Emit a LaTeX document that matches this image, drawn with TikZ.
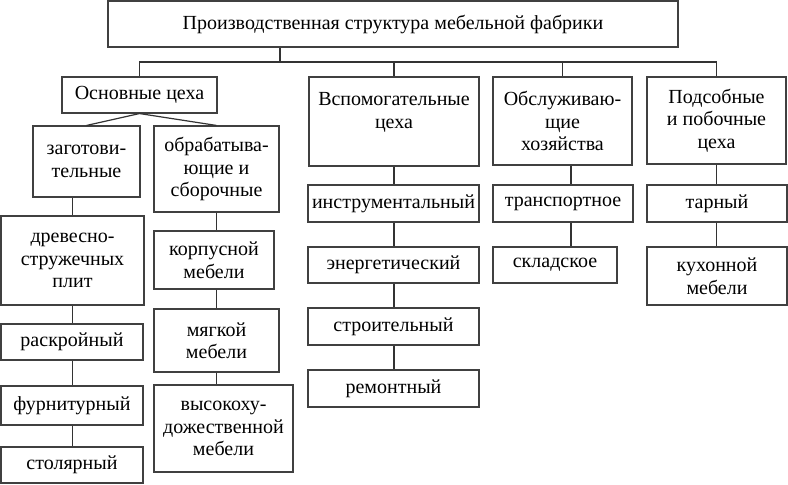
\documentclass[tikz,border=0pt]{standalone}
\usepackage{fontspec}
\setmainfont{Liberation Serif}
\begin{document}
\begin{tikzpicture}[x=1pt,y=1pt,
  box/.style={draw=black!75, line width=1.1pt, align=center, inner sep=0pt,
    font=\fontsize{20}{22.5}\selectfont},
  conn/.style={draw=black!80, line width=1.2pt}]
\useasboundingbox (0,0) rectangle (788,-485);
% level 0
\node[box, minimum width=570, minimum height=46] (top) at (393,-24) {Производственная структура мебельной фабрики};
% level 1
\node[box, minimum width=155, minimum height=36] (osn) at (139.5,-95) {Основные цеха};
\node[box, minimum width=170, minimum height=89] (vsp) at (394,-121.5) {Вспомогательные\\цеха\\ };
\node[box, minimum width=139, minimum height=88] (obs) at (562.5,-121) {Обслуживаю-\\щие\\хозяйства};
\node[box, minimum width=139, minimum height=87] (pod) at (716.5,-120.5) {Подсобные\\и побочные\\цеха};
% level 2 (main)
\node[box, minimum width=107, minimum height=71] (zag) at (86.5,-161.5) {заготови-\\тельные};
\node[box, minimum width=125, minimum height=86] (obr) at (216.5,-169) {обрабатыва-\\ющие и\\сборочные};
% left column
\node[box, minimum width=143, minimum height=89] (drev) at (72.5,-260.5) {древесно-\\стружечных\\плит};
\node[box, minimum width=142, minimum height=36] (rask) at (72,-342) {раскройный};
\node[box, minimum width=142, minimum height=39] (furn) at (72,-405.5) {фурнитурный};
\node[box, minimum width=142, minimum height=36] (stol) at (72,-465) {столярный};
% second column
\node[box, minimum width=120, minimum height=58] (korp) at (214,-260) {корпусной\\мебели};
\node[box, minimum width=125, minimum height=63] (myag) at (216.5,-340.5) {мягкой\\мебели};
\node[box, minimum width=139, minimum height=87] (vys) at (223.5,-428.5) {высокоху-\\дожественной\\мебели};
% auxiliary column
\node[box, minimum width=171, minimum height=37] (instr) at (393.5,-203.5) {инструментальный};
\node[box, minimum width=171, minimum height=36] (energ) at (393.5,-265) {энергетический};
\node[box, minimum width=171, minimum height=37] (stroi) at (393.5,-326.5) {строительный};
\node[box, minimum width=171, minimum height=37] (rem) at (393.5,-388.5) {ремонтный};
% service column
\node[box, minimum width=140, minimum height=37] (trans) at (563,-203.5) {транспортное};
\node[box, minimum width=124, minimum height=36] (sklad) at (555,-265) {складское};
% side column
\node[box, minimum width=140, minimum height=37] (tar) at (717,-203.5) {тарный};
\node[box, minimum width=140, minimum height=58] (kuh) at (717,-276) {кухонной\\мебели};
% connectors from top
\coordinate (bus) at (280,-62);
\draw[conn] (top.south -| bus) -- (bus);
\draw[conn] (osn.north) |- (bus) -| (pod.north);
\draw[conn] (vsp.north) -- (vsp.north |- bus);
\draw[conn] (obs.north) -- (obs.north |- bus);
% main shops
\draw[conn] (osn.south) -- (zag.north);
\draw[conn] (osn.south) -- (obr.north);
\draw[conn] (zag.south -| drev.north) -- (drev.north);
\draw[conn] (drev.south) -- (rask.north -| drev.south);
\draw[conn] (rask.south -| drev.south) -- (furn.north -| drev.south);
\draw[conn] (furn.south -| drev.south) -- (stol.north -| drev.south);
\draw[conn] (obr.south) -- (korp.north -| obr.south);
\draw[conn] (korp.south -| obr.south) -- (myag.north -| obr.south);
\draw[conn] (myag.south -| obr.south) -- (vys.north -| obr.south);
% auxiliary
\draw[conn] (vsp.south) -- (instr.north -| vsp.south);
\draw[conn] (instr.south -| vsp.south) -- (energ.north -| vsp.south);
\draw[conn] (energ.south -| vsp.south) -- (stroi.north -| vsp.south);
\draw[conn] (stroi.south -| vsp.south) -- (rem.north -| vsp.south);
% service
\coordinate (sx) at ([xshift=8.5]obs.south);
\draw[conn] (sx) -- (trans.north -| sx);
\draw[conn] (trans.south -| sx) -- (sklad.north -| sx);
% side
\draw[conn] (pod.south) -- (tar.north -| pod.south);
\draw[conn] (tar.south -| pod.south) -- (kuh.north -| pod.south);
\end{tikzpicture}
\end{document}
